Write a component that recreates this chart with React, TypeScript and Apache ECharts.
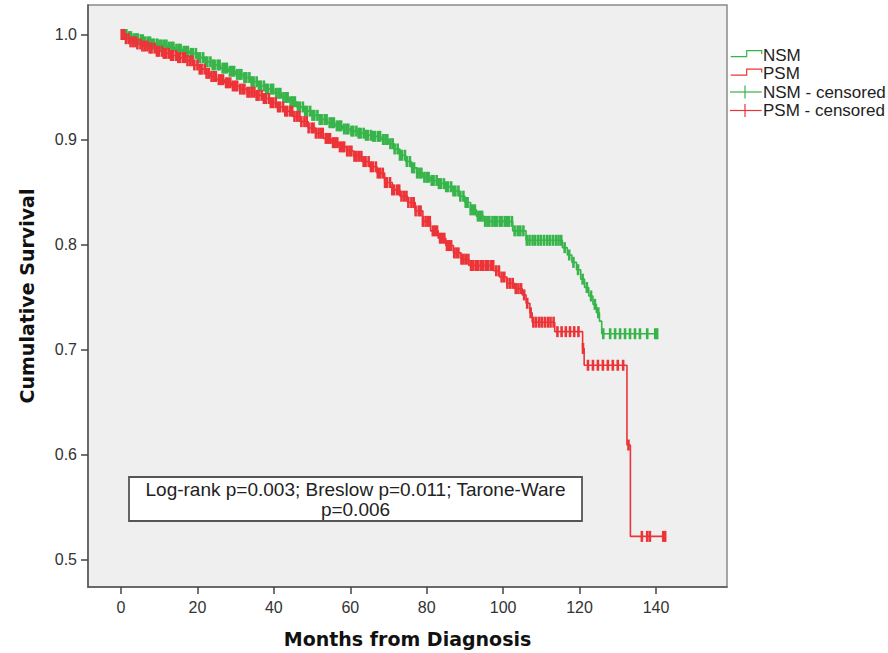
import React, { useEffect, useRef } from "react";
import * as echarts from "echarts";

// ---- Data ----
const xTicks = [0, 20, 40, 60, 80, 100, 120, 140];
const yTicks = [0.5, 0.6, 0.7, 0.8, 0.9, 1.0];

// NSM Kaplan-Meier step points
const nsmTimes = [0, 1.5, 3, 4.5, 6, 8, 10, 12, 14, 16, 18, 20, 22, 24, 26, 28, 30, 32, 34, 36, 38, 40, 42, 44, 46, 48, 50, 52, 54, 56, 58, 60, 62, 64, 66, 68, 70, 71.5, 73, 74.5, 76, 77.5, 79, 81, 83, 85, 87, 88.5, 90, 91.5, 93, 95, 102.5, 106, 115.5, 116.8, 118, 119.2, 120.3, 121.3, 122.4, 123.5, 124.4, 125.2, 125.8, 140.3];
const nsmSurv = [1.0, 0.998, 0.996, 0.995, 0.993, 0.991, 0.99, 0.988, 0.986, 0.984, 0.982, 0.978, 0.974, 0.971, 0.968, 0.965, 0.962, 0.959, 0.955, 0.951, 0.948, 0.944, 0.94, 0.936, 0.931, 0.927, 0.923, 0.919, 0.916, 0.913, 0.91, 0.908, 0.906, 0.904, 0.903, 0.9, 0.896, 0.891, 0.885, 0.879, 0.873, 0.868, 0.864, 0.861, 0.858, 0.855, 0.851, 0.846, 0.84, 0.833, 0.827, 0.822, 0.813, 0.804, 0.797, 0.79, 0.783, 0.776, 0.767, 0.759, 0.751, 0.743, 0.735, 0.727, 0.715, 0.715];

// PSM Kaplan-Meier step points
const psmTimes = [0, 1, 2.5, 4, 5.5, 7, 9, 11, 13, 15, 17, 19, 20.5, 22, 23.5, 25, 27, 29, 31, 33, 35, 37, 39, 41, 43, 45, 47, 49, 51, 53, 55, 57, 59, 61, 63, 65, 67, 69, 71, 73, 75, 77, 79, 81, 83, 85, 87, 89, 91, 97.5, 99, 101, 103, 105, 106, 107, 107.6, 113.5, 120.8, 121.2, 132.4, 133.3, 142.4];
const psmSurv = [1.0, 0.996, 0.993, 0.991, 0.989, 0.987, 0.984, 0.982, 0.98, 0.978, 0.975, 0.971, 0.967, 0.963, 0.96, 0.957, 0.954, 0.951, 0.948, 0.945, 0.942, 0.939, 0.935, 0.931, 0.927, 0.922, 0.917, 0.911, 0.906, 0.901, 0.897, 0.893, 0.889, 0.884, 0.879, 0.874, 0.868, 0.859, 0.852, 0.846, 0.84, 0.832, 0.822, 0.813, 0.806, 0.799, 0.792, 0.786, 0.78, 0.775, 0.769, 0.763, 0.758, 0.752, 0.744, 0.735, 0.726, 0.717, 0.701, 0.685, 0.609, 0.522, 0.522];

// Censoring times (months)
const nsmCensored = [0.3, 0.9, 1.4, 2.1, 2.6, 3.3, 3.9, 4.4, 5.2, 5.7, 6.3, 7.0, 7.6, 8.2, 8.7, 9.5, 10.1, 10.6, 11.3, 11.9, 12.6, 13.2, 13.7, 14.5, 15.1, 15.6, 16.4, 17.0, 17.5, 18.3, 18.8, 19.6, 20.2, 20.7, 21.5, 22.1, 22.6, 23.4, 24.0, 24.5, 25.3, 25.8, 26.6, 27.2, 27.7, 28.5, 29.1, 29.6, 30.4, 31.0, 31.5, 32.3, 32.8, 33.6, 34.2, 34.7, 35.5, 36.1, 36.6, 37.4, 38.0, 38.5, 39.3, 39.8, 40.6, 41.2, 41.7, 42.5, 43.1, 43.6, 44.4, 45.0, 45.5, 46.3, 46.8, 47.6, 48.2, 48.7, 49.5, 50.1, 50.6, 51.4, 52.0, 52.5, 53.3, 53.8, 54.6, 55.2, 55.7, 56.5, 57.1, 57.6, 58.4, 59.0, 59.5, 60.3, 60.8, 61.6, 62.2, 62.7, 63.5, 64.1, 64.6, 65.4, 66.0, 66.5, 67.3, 67.8, 68.6, 69.2, 69.7, 70.5, 71.1, 71.6, 72.4, 73.0, 73.5, 74.3, 74.8, 75.6, 76.2, 76.7, 77.5, 78.1, 78.6, 79.4, 80.0, 80.5, 81.3, 81.8, 82.6, 83.2, 83.7, 84.5, 85.1, 85.6, 86.4, 87.0, 87.5, 88.3, 88.8, 89.6, 90.2, 90.7, 91.5, 92.1, 92.6, 93.4, 94.0, 94.5, 95.3, 95.9, 96.4, 97.2, 97.8, 98.3, 99.1, 99.6, 100.4, 101.0, 101.5, 102.3, 103.0, 103.8, 104.5, 105.3, 106.2, 106.9, 107.7, 108.4, 109.2, 109.9, 110.7, 111.5, 112.2, 113.0, 113.8, 114.5, 115.2, 116.1, 117.3, 118.4, 119.6, 120.8, 121.9, 123.0, 124.0, 124.9, 126.2, 128.0, 129.3, 130.6, 131.9, 133.2, 134.5, 135.8, 137.7, 139.8, 140.3];
const psmCensored = [0.2, 0.8, 1.3, 2.0, 2.5, 3.2, 3.8, 4.3, 5.1, 5.6, 6.2, 6.9, 7.5, 8.0, 8.8, 9.4, 9.9, 10.7, 11.2, 11.8, 12.5, 13.1, 13.6, 14.4, 15.0, 15.5, 16.3, 16.8, 17.4, 18.1, 18.7, 19.2, 20.0, 20.6, 21.1, 21.9, 22.4, 23.0, 23.7, 24.3, 24.8, 25.6, 26.2, 26.7, 27.5, 28.0, 28.6, 29.3, 29.9, 30.4, 31.2, 31.8, 32.3, 33.1, 33.6, 34.2, 34.9, 35.5, 36.0, 36.8, 37.4, 37.9, 38.7, 39.2, 39.8, 40.5, 41.1, 41.6, 42.4, 43.0, 43.5, 44.3, 44.8, 45.4, 46.1, 46.7, 47.2, 48.0, 48.6, 49.1, 49.9, 50.4, 51.0, 51.7, 52.3, 52.8, 53.6, 54.2, 54.7, 55.5, 56.0, 56.6, 57.3, 57.9, 58.4, 59.2, 59.8, 60.3, 61.1, 61.6, 62.2, 62.9, 63.5, 64.0, 64.8, 65.4, 65.9, 66.7, 67.2, 67.8, 68.5, 69.1, 69.6, 70.4, 71.0, 71.5, 72.3, 72.8, 73.4, 74.1, 74.7, 75.2, 76.0, 76.6, 77.1, 77.9, 78.4, 79.0, 79.7, 80.3, 80.8, 81.6, 82.2, 82.7, 83.5, 84.0, 84.6, 85.3, 85.9, 86.4, 87.2, 87.8, 88.3, 89.1, 89.6, 90.2, 90.9, 91.6, 92.2, 92.9, 93.5, 94.2, 94.8, 95.5, 96.1, 96.8, 97.4, 98.2, 98.9, 99.6, 100.3, 101.1, 101.8, 102.5, 103.3, 104.0, 104.7, 105.5, 106.3, 107.2, 107.9, 108.6, 109.4, 110.1, 110.9, 111.7, 112.4, 113.2, 114.2, 115.3, 116.4, 117.5, 118.6, 119.7, 120.9, 122.2, 123.5, 124.8, 126.1, 127.4, 128.7, 130.0, 131.4, 132.8, 136.3, 137.7, 138.4, 141.9, 142.4];

const seriesNames = ["NSM", "PSM", "NSM - censored", "PSM - censored"];
const statLines = ["Log-rank p=0.003; Breslow p=0.011; Tarone-Ware", "p=0.006"];
const xName = "Months from Diagnosis";
const yName = "Cumulative Survival";

// ---- Styling ----
const GREEN = "#37b44a";
const RED = "#ec3438";
const SANS = "'Liberation Sans', Arial, sans-serif";
const BOLD = "'DejaVu Sans', 'Liberation Sans', sans-serif";

function survAt(times: number[], surv: number[], t: number): number {
  let v = surv[0];
  for (let i = 0; i < times.length; i++) {
    if (times[i] <= t) v = surv[i];
    else break;
  }
  return v;
}

export default function App() {
  const ref = useRef<HTMLDivElement>(null);

  useEffect(() => {
    if (!ref.current) return;
    const chart = echarts.init(ref.current, null, { renderer: "svg" });

    const nsmLine = nsmTimes.map((t, i) => [t, nsmSurv[i]]);
    const psmLine = psmTimes.map((t, i) => [t, psmSurv[i]]);
    const nsmCens = nsmCensored.map((t) => [t, survAt(nsmTimes, nsmSurv, t)]);
    const psmCens = psmCensored.map((t) => [t, survAt(psmTimes, psmSurv, t)]);

    const legendX0 = 730.7;
    const legendXs = 746.7;
    const legendX1 = 761.7;
    const legendTextX = 763;
    const rowY = [55, 73.5, 92, 110.5];

    const stepIcon = (y: number, color: string) => ({
      type: "polyline",
      silent: true,
      shape: {
        points: [
          [legendX0, y + 1.7],
          [legendXs, y + 1.7],
          [legendXs, y - 4.3],
          [legendX1, y - 4.3],
          [legendX1, y - 1],
        ],
      },
      style: { stroke: color, fill: null, lineWidth: 1.2 },
    });
    const censIcon = (y: number, color: string) => ({
      type: "group",
      silent: true,
      children: [
        { type: "line", shape: { x1: legendX0 - 0.7, y1: y, x2: legendX1, y2: y }, style: { stroke: color, lineWidth: 1.2 } },
        { type: "line", shape: { x1: 745, y1: y - 6.5, x2: 745, y2: y + 6.5 }, style: { stroke: color, lineWidth: 1.2 } },
      ],
    });
    const legendText = (y: number, text: string) => ({
      type: "text",
      silent: true,
      x: legendTextX,
      y,
      style: { text, fill: "#222", font: `17px ${SANS}`, textAlign: "left", textVerticalAlign: "middle" },
    });

    const option: any = {
      animation: false,
      backgroundColor: "#ffffff",
      grid: {
        left: 88,
        right: 161,
        top: 5,
        bottom: 66,
        show: true,
        backgroundColor: "#efefef",
        borderColor: "#8a8a8a",
        borderWidth: 1.5,
      },
      xAxis: {
        type: "value",
        min: -8.636,
        max: 158.58,
        name: xName,
        nameLocation: "middle",
        nameGap: 42,
        nameTextStyle: { fontFamily: BOLD, fontWeight: "bold", fontSize: 19, color: "#111" },
        axisLine: { show: true, onZero: false, lineStyle: { color: "#555", width: 1.5 } },
        axisTick: { show: true, customValues: xTicks, length: 7, lineStyle: { color: "#444", width: 1.5 } },
        axisLabel: { customValues: xTicks, margin: 12, fontSize: 16, fontFamily: SANS, color: "#333" },
        splitLine: { show: false },
      },
      yAxis: {
        type: "value",
        min: 0.4738,
        max: 1.0281,
        name: yName,
        nameLocation: "middle",
        nameGap: 52,
        nameRotate: 90,
        nameTextStyle: { fontFamily: BOLD, fontWeight: "bold", fontSize: 19, color: "#111" },
        axisLine: { show: true, onZero: false, lineStyle: { color: "#555", width: 1.5 } },
        axisTick: { show: true, customValues: yTicks, length: 7, lineStyle: { color: "#444", width: 1.5 } },
        axisLabel: {
          customValues: yTicks,
          margin: 11,
          fontSize: 16,
          fontFamily: SANS,
          color: "#333",
          formatter: (v: number) => v.toFixed(1),
        },
        splitLine: { show: false },
      },
      series: [
        {
          name: seriesNames[0],
          type: "line",
          step: "end",
          data: nsmLine,
          showSymbol: false,
          lineStyle: { color: GREEN, width: 1.6 },
          silent: true,
          z: 3,
        },
        {
          name: seriesNames[1],
          type: "line",
          step: "end",
          data: psmLine,
          showSymbol: false,
          lineStyle: { color: RED, width: 1.6 },
          silent: true,
          z: 3,
        },
        {
          name: seriesNames[2],
          type: "scatter",
          data: nsmCens,
          symbol: "rect",
          symbolSize: [2.6, 11],
          itemStyle: { color: GREEN, opacity: 1 },
          silent: true,
          z: 4,
        },
        {
          name: seriesNames[3],
          type: "scatter",
          data: psmCens,
          symbol: "rect",
          symbolSize: [2.6, 11],
          itemStyle: { color: RED, opacity: 1 },
          silent: true,
          z: 4,
        },
      ],
      graphic: [
        {
          type: "group",
          silent: true,
          children: [
            {
              type: "rect",
              shape: { x: 129, y: 477, width: 453, height: 44 },
              style: { fill: "#ffffff", stroke: "#555", lineWidth: 1.8 },
            },
            {
              type: "text",
              x: 355.5,
              y: 489,
              style: { text: statLines[0], fill: "#222", font: `19px ${SANS}`, textAlign: "center", textVerticalAlign: "middle" },
            },
            {
              type: "text",
              x: 355.5,
              y: 509,
              style: { text: statLines[1], fill: "#222", font: `19px ${SANS}`, textAlign: "center", textVerticalAlign: "middle" },
            },
          ],
        },
        stepIcon(rowY[0], GREEN),
        stepIcon(rowY[1], RED),
        censIcon(rowY[2], GREEN),
        censIcon(rowY[3], RED),
        legendText(rowY[0], seriesNames[0]),
        legendText(rowY[1], seriesNames[1]),
        legendText(rowY[2], seriesNames[2]),
        legendText(rowY[3], seriesNames[3]),
      ],
    };

    chart.setOption(option);
    return () => chart.dispose();
  }, []);

  return (
    <div
      ref={ref}
      style={{ position: "fixed", left: 0, top: 0, width: 888, height: 653, background: "#fff" }}
    />
  );
}
